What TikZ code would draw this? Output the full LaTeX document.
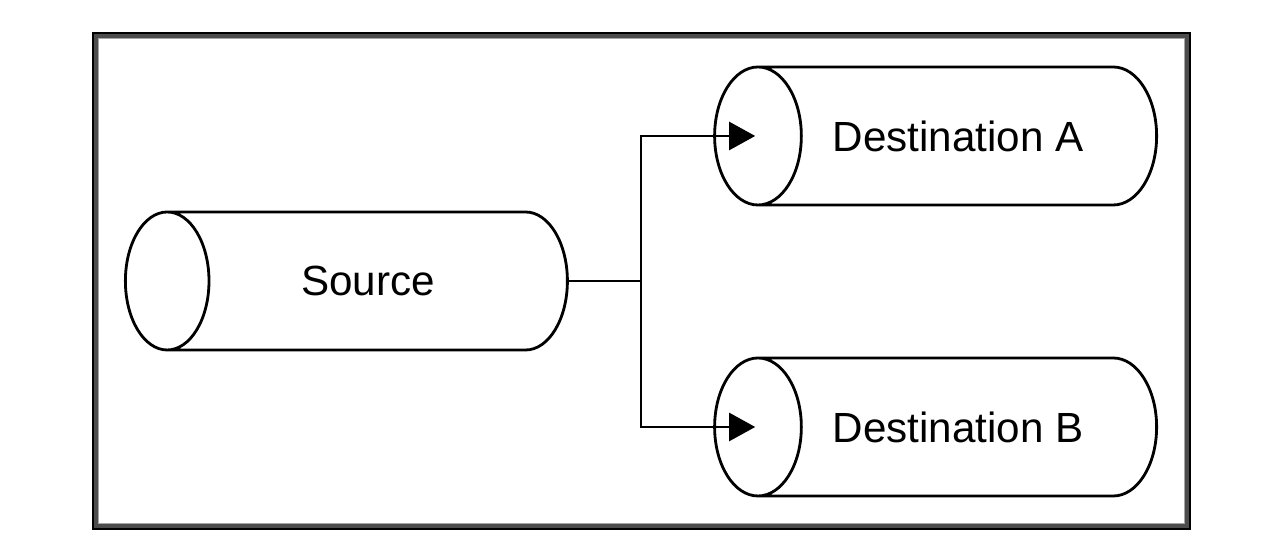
\documentclass[tikz,border=0pt]{standalone}
\usepackage{fontspec}
\setmainfont{Liberation Sans}
\usetikzlibrary{shapes.geometric,arrows.meta,positioning}
\tikzstyle{pipe} = [cylinder, shape border rotate=180, draw, line width=0.8pt,
    aspect=2.8, minimum width=1.38cm, minimum height=4.42cm, inner sep=0pt,
    font=\fontsize{12}{14}\selectfont]
\tikzstyle{line} = [draw, line width=0.7pt, -{Triangle[length=0.26cm,width=0.28cm]}]

\begin{document}
\begin{tikzpicture}[node distance = 5.9cm]
    \useasboundingbox (0,0) rectangle (12.76,5.58);
    % Frame
    \draw[line width=0.05cm, black!70] (0.955,0.315) rectangle (11.875,5.225);
    \draw[line width=0.5pt] (0.93,0.29) rectangle (11.90,5.25);
    \draw[line width=0.3pt, black!35] (0.985,0.345) rectangle (11.845,5.195);
    % Place nodes
    \node [pipe] (source) at (3.68,2.77) {Source};
    \node [pipe, right of=source, yshift=1.45cm] (destA) {Destination A};
    \node [pipe, right of=source, yshift=-1.46cm] (destB) {Destination B};
    \coordinate [right=0.72cm of source.east] (split);
    % Draw edges
    \draw [line width=0.7pt] (source.east) -- (split);
    \path [line] (split) |- ([xshift=0.42cm]destA.west);
    \path [line] (split) |- ([xshift=0.42cm]destB.west);
\end{tikzpicture}
\end{document}
